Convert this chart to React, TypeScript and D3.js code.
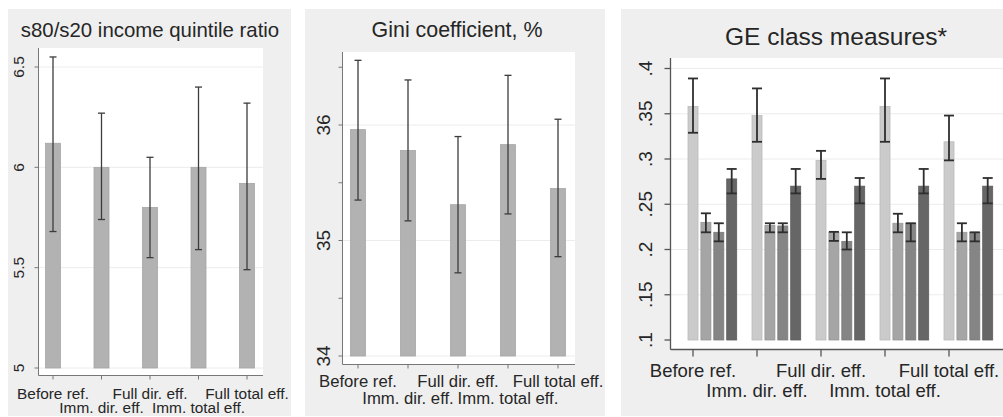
import React from "react";
import * as d3 from "d3";

// ---------- data ----------
const categories = ["Before ref.", "Imm. dir. eff.", "Full dir. eff.", "Imm. total eff.", "Full total eff."];

const s8020Values = [6.12, 6.0, 5.8, 6.0, 5.92];
const s8020Lower = [5.68, 5.74, 5.55, 5.59, 5.49];
const s8020Upper = [6.55, 6.27, 6.05, 6.4, 6.32];
const s8020Ticks = [5, 5.5, 6, 6.5];
const s8020TickLabels = ["5", "5.5", "6", "6.5"];

const giniValues = [35.96, 35.78, 35.31, 35.83, 35.45];
const giniLower = [35.35, 35.17, 34.72, 35.23, 34.86];
const giniUpper = [36.56, 36.39, 35.9, 36.43, 36.05];
const giniTicks = [34, 34.5, 35, 35.5, 36, 36.5];
const giniTickLabels = ["34", "", "35", "", "36", ""];

const geSeries = ["GE series 1", "GE series 2", "GE series 3", "GE series 4"];
const ge1Values = [0.358, 0.348, 0.2985, 0.358, 0.319];
const ge1Lower = [0.329, 0.319, 0.278, 0.319, 0.2985];
const ge1Upper = [0.389, 0.378, 0.309, 0.389, 0.348];
const ge2Values = [0.23, 0.2265, 0.219, 0.229, 0.219];
const ge2Lower = [0.219, 0.219, 0.2095, 0.219, 0.209];
const ge2Upper = [0.24, 0.229, 0.2195, 0.2395, 0.229];
const ge3Values = [0.219, 0.226, 0.209, 0.229, 0.219];
const ge3Lower = [0.209, 0.219, 0.2, 0.209, 0.209];
const ge3Upper = [0.229, 0.229, 0.219, 0.229, 0.219];
const ge4Values = [0.278, 0.27, 0.27, 0.27, 0.27];
const ge4Lower = [0.262, 0.262, 0.251, 0.262, 0.251];
const ge4Upper = [0.289, 0.289, 0.279, 0.289, 0.279];
const geTicks = [0.1, 0.15, 0.2, 0.25, 0.3, 0.35, 0.4];
const geTickLabels = [".1", ".15", ".2", ".25", ".3", ".35", ".4"];

const geValues = [ge1Values, ge2Values, ge3Values, ge4Values];
const geLower = [ge1Lower, ge2Lower, ge3Lower, ge4Lower];
const geUpper = [ge1Upper, ge2Upper, ge3Upper, ge4Upper];
const geColors = ["#cbcbcb", "#a5a5a5", "#858585", "#666666"];

const FONT = "Arial, 'Liberation Sans', Helvetica, sans-serif";
const PANEL_BG = "#efefef";
const TEXT = "#262626";

type SimpleCfg = {
  bg: [number, number, number, number];
  plot: [number, number, number, number]; // x0,y0,x1,y1 (y1 = axis line)
  title: string;
  titleX: number;
  titleY: number;
  titleSize: number;
  yDomain: [number, number];
  yRange: [number, number];
  xRange: [number, number];
  ticks: number[];
  tickLabels: string[];
  tickLabelX: number;
  tickSize: number;
  xLabelSize: number;
  row1: number;
  row2: number;
  values: number[];
  lower: number[];
  upper: number[];
  barW: number;
};

function SimplePanel({ c }: { c: SimpleCfg }) {
  const x = d3.scalePoint<string>().domain(categories).range(c.xRange);
  const y = d3.scaleLinear().domain(c.yDomain).range(c.yRange);
  const [px0, py0, px1, py1] = c.plot;
  return (
    <g>
      <rect x={c.bg[0]} y={c.bg[1]} width={c.bg[2] - c.bg[0]} height={c.bg[3] - c.bg[1]} fill={PANEL_BG} />
      <rect x={px0} y={py0} width={px1 - px0} height={py1 - py0} fill="#ffffff" />
      <text x={c.titleX} y={c.titleY} fontSize={c.titleSize} textAnchor="middle" fill={TEXT} fontFamily={FONT}>
        {c.title}
      </text>
      {c.ticks.map((t, i) =>
        c.tickLabels[i] !== "" && y(t) > py0 + 2 && y(t) < py1 - 2 ? (
          <line key={"g" + i} x1={px0} x2={px1} y1={y(t)} y2={y(t)} stroke="#ececec" strokeWidth={1} />
        ) : null
      )}
      {categories.map((cat, i) => (
        <rect
          key={"b" + i}
          x={(x(cat) as number) - c.barW / 2}
          y={y(c.values[i])}
          width={c.barW}
          height={y(c.yDomain[0]) - y(c.values[i])}
          fill="#b2b2b2"
          stroke="#a6a6a6"
          strokeWidth={0.8}
        />
      ))}
      {categories.map((cat, i) => {
        const cx = x(cat) as number;
        return (
          <g key={"e" + i} stroke="#3c3c3c" strokeWidth={1.3}>
            <line x1={cx} x2={cx} y1={y(c.upper[i])} y2={y(c.lower[i])} />
            <line x1={cx - 3.5} x2={cx + 3.5} y1={y(c.upper[i])} y2={y(c.upper[i])} />
            <line x1={cx - 3.5} x2={cx + 3.5} y1={y(c.lower[i])} y2={y(c.lower[i])} />
          </g>
        );
      })}
      {/* axes */}
      <line x1={px0} x2={px0} y1={py0} y2={py1} stroke="#777" strokeWidth={1} />
      <line x1={px0} x2={px1} y1={py1} y2={py1} stroke="#777" strokeWidth={1} />
      {c.ticks.map((t, i) => (
        <g key={"t" + i}>
          <line x1={px0 - 4} x2={px0} y1={y(t)} y2={y(t)} stroke="#777" strokeWidth={1} />
          {c.tickLabels[i] !== "" ? (
            <text
              transform={`translate(${c.tickLabelX},${y(t)}) rotate(-90)`}
              textAnchor="middle"
              dy="0.35em"
              fontSize={c.tickSize}
              fill={TEXT}
              fontFamily={FONT}
            >
              {c.tickLabels[i]}
            </text>
          ) : null}
        </g>
      ))}
      {categories.map((cat, i) => (
        <g key={"x" + i}>
          <line x1={x(cat) as number} x2={x(cat) as number} y1={py1} y2={py1 + 4} stroke="#777" strokeWidth={1} />
          <text
            x={x(cat) as number}
            y={i % 2 === 0 ? c.row1 : c.row2}
            textAnchor="middle"
            fontSize={c.xLabelSize}
            fill={TEXT}
            fontFamily={FONT}
          >
            {cat}
          </text>
        </g>
      ))}
    </g>
  );
}

function GEPanel() {
  const bg = [621, 9, 1003, 416];
  const [px0, py0, px1, py1] = [670.5, 58, 1003, 349.5];
  const x0 = d3.scalePoint<string>().domain(categories).range([693, 949]);
  const x1 = d3.scalePoint<string>().domain(geSeries).range([0, 38.7]);
  const y = d3.scaleLinear().domain([0.1, 0.4]).range([340, 68.5]);
  const barW = 10;
  return (
    <g>
      <rect x={bg[0]} y={bg[1]} width={bg[2] - bg[0]} height={bg[3] - bg[1]} fill={PANEL_BG} />
      <rect x={px0} y={py0} width={px1 - px0} height={py1 - py0} fill="#ffffff" />
      <text x={836} y={45} fontSize={24.5} textAnchor="middle" fill={TEXT} fontFamily={FONT}>
        GE class measures*
      </text>
      {geTicks.map((t, i) =>
        i > 0 ? <line key={"g" + i} x1={px0} x2={px1} y1={y(t)} y2={y(t)} stroke="#ececec" strokeWidth={1} /> : null
      )}
      {categories.map((cat, ci) =>
        geSeries.map((s, si) => {
          const cx = (x0(cat) as number) + (x1(s) as number);
          return (
            <rect
              key={cat + s}
              x={cx - barW / 2}
              y={y(geValues[si][ci])}
              width={barW}
              height={y(0.1) - y(geValues[si][ci])}
              fill={geColors[si]}
              stroke={d3.color(geColors[si])!.darker(0.25).toString()}
              strokeWidth={0.8}
            />
          );
        })
      )}
      {categories.map((cat, ci) =>
        geSeries.map((s, si) => {
          const cx = (x0(cat) as number) + (x1(s) as number);
          const yu = y(geUpper[si][ci]);
          const yl = y(geLower[si][ci]);
          return (
            <g key={"e" + cat + s} stroke="#2e2e2e" strokeWidth={1.8}>
              <line x1={cx} x2={cx} y1={yu} y2={yl} />
              <line x1={cx - 5} x2={cx + 5} y1={yu} y2={yu} />
              <line x1={cx - 5} x2={cx + 5} y1={yl} y2={yl} />
            </g>
          );
        })
      )}
      <line x1={px0} x2={px0} y1={py0} y2={py1} stroke="#555" strokeWidth={1.3} />
      <line x1={px0} x2={px1} y1={py1} y2={py1} stroke="#555" strokeWidth={1.3} />
      {geTicks.map((t, i) => (
        <g key={"t" + i}>
          <line x1={px0 - 6} x2={px0} y1={y(t)} y2={y(t)} stroke="#555" strokeWidth={1.3} />
          <text
            transform={`translate(${645},${y(t)}) rotate(-90)`}
            textAnchor="middle"
            dy="0.35em"
            fontSize={19}
            fill={TEXT}
            fontFamily={FONT}
          >
            {geTickLabels[i]}
          </text>
        </g>
      ))}
      {categories.map((cat, i) => (
        <g key={"x" + i}>
          <line x1={x0(cat) as number} x2={x0(cat) as number} y1={py1} y2={py1 + 7} stroke="#555" strokeWidth={1.3} />
          <text
            x={x0(cat) as number}
            y={i % 2 === 0 ? 377 : 397}
            textAnchor="middle"
            fontSize={18.5}
            fill={TEXT}
            fontFamily={FONT}
          >
            {cat}
          </text>
        </g>
      ))}
    </g>
  );
}

const panel1: SimpleCfg = {
  bg: [8, 9, 291, 416],
  plot: [38.5, 48, 263, 375.5],
  title: "s80/s20 income quintile ratio",
  titleX: 150,
  titleY: 37,
  titleSize: 20.4,
  yDomain: [5, 6.5],
  yRange: [368, 67],
  xRange: [53, 247],
  ticks: s8020Ticks,
  tickLabels: s8020TickLabels,
  tickLabelX: 19,
  tickSize: 15.5,
  xLabelSize: 15.4,
  row1: 399,
  row2: 413,
  values: s8020Values,
  lower: s8020Lower,
  upper: s8020Upper,
  barW: 15,
};

const panel2: SimpleCfg = {
  bg: [305, 9, 605, 416],
  plot: [342.5, 52, 575, 364.5],
  title: "Gini coefficient, %",
  titleX: 457,
  titleY: 37,
  titleSize: 21.4,
  yDomain: [34, 36],
  yRange: [356, 125],
  xRange: [358, 558],
  ticks: giniTicks,
  tickLabels: giniTickLabels,
  tickLabelX: 323,
  tickSize: 19,
  xLabelSize: 16.7,
  row1: 387,
  row2: 404,
  values: giniValues,
  lower: giniLower,
  upper: giniUpper,
  barW: 15,
};

export default function App() {
  return (
    <svg
      width={1003}
      height={417}
      viewBox="0 0 1003 417"
      style={{ position: "absolute", left: 0, top: 0, display: "block", background: "#fff" }}
    >
      <SimplePanel c={panel1} />
      <SimplePanel c={panel2} />
      <GEPanel />
    </svg>
  );
}
